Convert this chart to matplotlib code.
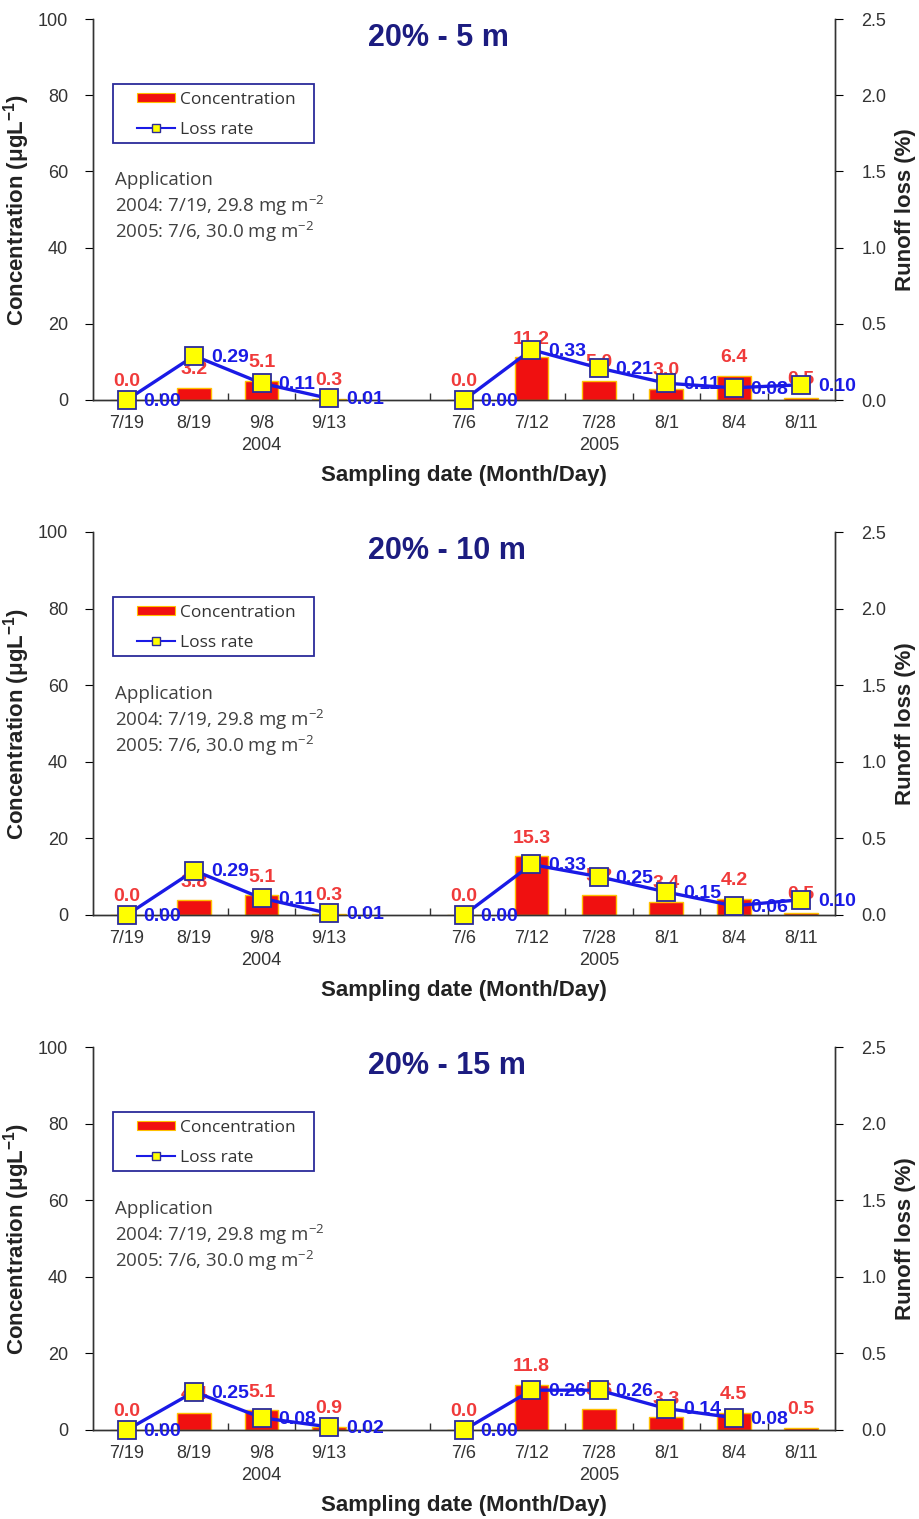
import numpy as np
import matplotlib
matplotlib.use('Agg')
import matplotlib.pyplot as plt
from matplotlib.patches import Rectangle
from matplotlib.lines import Line2D

plt.rcParams['font.family'] = ['Liberation Sans', 'DejaVu Sans']

# 采样日期
dates_2004 = ['7/19', '8/19', '9/8', '9/13']
dates_2005 = ['7/6', '7/12', '7/28', '8/1', '8/4', '8/11']

# 各处理的浓度 (ug/L) 和径流损失率 (%)
titles = ['20% - 5 m', '20% - 10 m', '20% - 15 m']

conc_5m_2004 = [0.0, 3.2, 5.1, 0.3]
conc_5m_2005 = [0.0, 11.2, 5.0, 3.0, 6.4, 0.5]
loss_5m_2004 = [0.00, 0.29, 0.11, 0.01]
loss_5m_2005 = [0.00, 0.33, 0.21, 0.11, 0.08, 0.10]

conc_10m_2004 = [0.0, 3.8, 5.1, 0.3]
conc_10m_2005 = [0.0, 15.3, 5.2, 3.4, 4.2, 0.5]
loss_10m_2004 = [0.00, 0.29, 0.11, 0.01]
loss_10m_2005 = [0.00, 0.33, 0.25, 0.15, 0.06, 0.10]

conc_15m_2004 = [0.0, 4.4, 5.1, 0.9]
conc_15m_2005 = [0.0, 11.8, 5.6, 3.3, 4.5, 0.5]
loss_15m_2004 = [0.00, 0.25, 0.08, 0.02]
loss_15m_2005 = [0.00, 0.26, 0.26, 0.14, 0.08, None]

panels = [
    (conc_5m_2004, conc_5m_2005, loss_5m_2004, loss_5m_2005),
    (conc_10m_2004, conc_10m_2005, loss_10m_2004, loss_10m_2005),
    (conc_15m_2004, conc_15m_2005, loss_15m_2004, loss_15m_2005),
]

RED = '#f01010'
LBL_RED = '#f03a3a'
BLUE = '#1a1ae6'
NAVY = '#1c1c80'
GRAY = '#404040'

fig = plt.figure(figsize=(9.2, 15.19), dpi=100)

x04 = np.arange(len(dates_2004))
x05 = np.arange(len(dates_2005)) + len(dates_2004) + 1
xall = list(x04) + list(x05)
labels = list(dates_2004) + list(dates_2005)
labels[2] = labels[2] + '\n2004'
labels[6] = labels[6] + '\n2005'

bottoms = [1 - 400 / 1519, 1 - 915 / 1519, 1 - 1430 / 1519]
heights = [381 / 1519, 383 / 1519, 383 / 1519]

for i, (c04, c05, l04, l05) in enumerate(panels):
    ax = fig.add_axes([93 / 920, bottoms[i], 742 / 920, heights[i]])
    ax2 = ax.twinx()
    ah = heights[i] * 1519  # 轴高度(像素)

    conc = list(c04) + list(c05)
    ax.bar(xall, conc, width=0.5, color=RED, edgecolor='#ffc000', linewidth=1.0, zorder=2)
    for x, v in zip(xall, conc):
        ax.annotate('%.1f' % v, (x, v), xytext=(0, 7), textcoords='offset points',
                    ha='center', va='bottom', color=LBL_RED, fontsize=14, fontweight='bold')

    for xs, ls in [(x04, l04), (x05, l05)]:
        xs_ok = [x for x, v in zip(xs, ls) if v is not None]
        ls_ok = [v for v in ls if v is not None]
        ax2.plot(xs_ok, ls_ok, color=BLUE, lw=2.4, marker='s', markersize=12.5,
                 markerfacecolor='#ffff00', markeredgecolor='#2b2b9a', markeredgewidth=1.3,
                 zorder=3, clip_on=False)
        for x, v in zip(xs_ok, ls_ok):
            ax2.annotate('%.2f' % v, (x, v), xytext=(12, -1), textcoords='offset points',
                         ha='left', va='center', color=BLUE, fontsize=14, fontweight='bold')

    ax.set_xlim(-0.5, 10.5)
    ax.set_ylim(0, 100)
    ax2.set_ylim(0, 2.5)
    ax.set_yticks(np.arange(0, 101, 20))
    ax2.set_yticks(np.arange(0, 2.51, 0.5))
    ax2.set_yticklabels(['%.1f' % t for t in np.arange(0, 2.51, 0.5)])

    ax.set_xticks(np.arange(0.5, 10, 1))
    ax.set_xticklabels([])
    ax.tick_params(axis='x', which='major', direction='in', length=5, width=1, color='#333333')
    ax.set_xticks(xall, minor=True)
    ax.set_xticklabels(labels, minor=True, fontsize=13, color='#333333', linespacing=1.35)
    ax.tick_params(axis='x', which='minor', length=0, pad=11)

    ax.tick_params(axis='y', direction='out', length=6, labelsize=13, labelcolor='#333333', pad=12)
    ax2.tick_params(axis='y', direction='out', length=6, labelsize=13, labelcolor='#333333', pad=13)

    for a in (ax, ax2):
        a.spines['top'].set_visible(False)
        for s in ('left', 'right', 'bottom'):
            a.spines[s].set_color('#333333')
            a.spines[s].set_linewidth(1.0)
    ax.set_zorder(1)
    ax2.set_zorder(2)
    ax.patch.set_visible(False)

    ax.set_ylabel('Concentration (μgL$^{\\mathregular{-1}}$)', fontsize=16, fontweight='bold',
                  color='#222222')
    ax.yaxis.set_label_coords((32 - 93) / 742, 0.5)
    ax2.set_ylabel('Runoff loss (%)', fontsize=16, fontweight='bold', color='#222222')
    ax2.yaxis.set_label_coords((895 - 93) / 742, 0.5)
    ax.set_xlabel('Sampling date (Month/Day)', fontsize=16, fontweight='bold', color='#222222',
                  labelpad=8)

    ax.text((368 - 93) / 742, 0.95, titles[i], transform=ax.transAxes, ha='left', va='center',
            fontsize=22, fontweight='bold', color=NAVY)

    # 图例外框
    ax.add_patch(Rectangle(((113 - 93) / 742, (ah - 124) / ah), 201 / 742, 59 / ah,
                           transform=ax.transAxes, fill=False, edgecolor='#2b2b9a',
                           linewidth=1.3, zorder=5, clip_on=False))
    h1 = Rectangle((0, 0), 1, 1, facecolor=RED, edgecolor='#ffc000', linewidth=0.8)
    h2 = Line2D([], [], color=BLUE, lw=1.5, marker='s', markersize=6,
                markerfacecolor='#ffff00', markeredgecolor='#2b2b9a')
    leg = ax.legend([h1, h2], ['Concentration', 'Loss rate'], loc='upper left',
                    bbox_to_anchor=(44 / 742, 1 - 73 / ah),
                    borderaxespad=0, borderpad=0, frameon=False,
                    handlelength=2.2, handleheight=0.4, handletextpad=0.3,
                    labelspacing=0.78, prop={'family': 'Open Sans', 'size': 12.5})
    for t in leg.get_texts():
        t.set_color('#333333')

    ax.text(0.03, 0.577, 'Application', transform=ax.transAxes, ha='left', va='center',
            fontsize=13.5, family='Open Sans', color=GRAY)
    ax.text(0.03, 0.509, '2004: 7/19, 29.8 mg m$^{\\mathregular{-2}}$', transform=ax.transAxes,
            ha='left', va='center', fontsize=13.5, family='Open Sans', color=GRAY)
    ax.text(0.03, 0.441, '2005: 7/6, 30.0 mg m$^{\\mathregular{-2}}$', transform=ax.transAxes,
            ha='left', va='center', fontsize=13.5, family='Open Sans', color=GRAY)

fig.savefig('out.png', dpi=100)
